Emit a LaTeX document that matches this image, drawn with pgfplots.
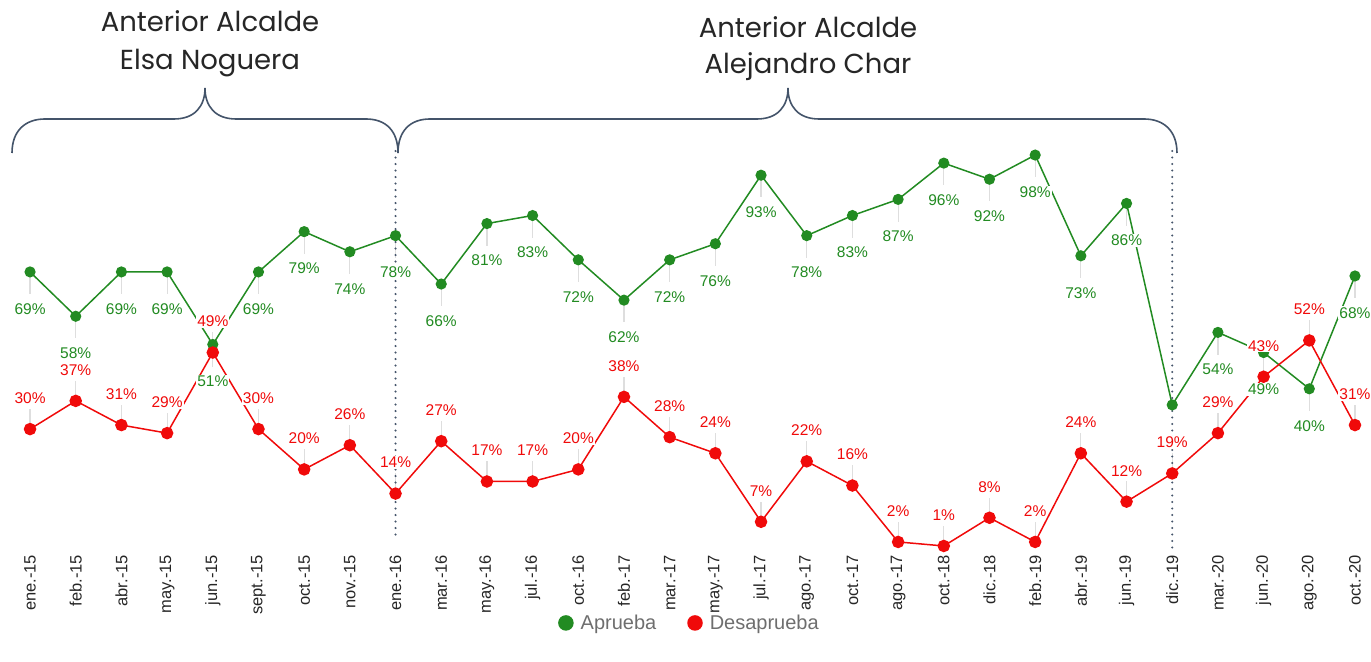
\documentclass[border=0pt]{standalone}
\usepackage{fontspec}
\setmainfont{Liberation Sans}
\newfontfamily\titlefont{Poppins}
\usepackage{pgfplots}
\usepackage{pgfplotstable}
\pgfplotsset{compat=1.18}
\definecolor{apr}{RGB}{34,139,34}
\definecolor{des}{RGB}{240,10,10}
\definecolor{slate}{RGB}{68,84,106}
\definecolor{lead}{RGB}{222,222,222}
\definecolor{legtext}{RGB}{110,110,110}

\pgfplotstableread{
x apr des
0 69 30
1 58 37
2 69 31
3 69 29
4 51 49
5 69 30
6 79 20
7 74 26
8 78 14
9 66 27
10 81 17
11 83 17
12 72 20
13 62 38
14 72 28
15 76 24
16 93 7
17 78 22
18 83 16
19 87 2
20 96 1
21 92 8
22 98 2
23 73 24
24 86 12
25 36 19
26 54 29
27 49 43
28 40 52
29 68 31
}\datatable

\begin{document}
\begin{tikzpicture}
\useasboundingbox (0,0) rectangle (1371bp,662bp);
\begin{axis}[
  at={(7.2bp,112bp)}, anchor=south west,
  scale only axis, width=1361.5bp, height=403bp,
  xmin=-0.5, xmax=29.3, ymin=0, ymax=100,
  clip=false,
  /pgf/number format/assume math mode=true,
  axis y line=none,
  axis x line*=bottom,
  x axis line style={draw=none},
  xtick={0,...,29},
  xticklabels={ene.-15,feb.-15,abr.-15,may.-15,jun.-15,sept.-15,oct.-15,nov.-15,ene.-16,mar.-16,may.-16,jul.-16,oct.-16,feb.-17,mar.-17,may.-17,jul.-17,ago.-17,oct.-17,ago.-17,oct.-18,dic.-18,feb.-19,abr.-19,jun.-19,dic.-19,mar.-20,jun.-20,ago.-20,oct.-20},
  major tick length=0pt,
  xtick style={draw=none},
  xticklabel style={rotate=90, anchor=east, inner sep=0pt, outer sep=5bp,
    font=\fontsize{16.5bp}{18bp}\selectfont, text=black!85},
  legend style={at={(0.5011,-0.181)}, anchor=center, draw=none, fill=none,
    legend columns=2, font=\fontsize{20bp}{22bp}\selectfont, text=legtext,
    /tikz/every even column/.append style={column sep=29bp}},
  legend image code/.code={\fill[#1] (0bp,0bp) circle (7bp); \path (12bp,0bp);},
]
% leader lines
\addplot[forget plot, draw=none, skip coords between index={25}{26},
  error bars/.cd, y dir=minus, y fixed=5.5, error mark=none,
  error bar style={lead, line width=1.2bp}] table[x=x,y=apr]\datatable;
\addplot[forget plot, draw=none,
  error bars/.cd, y dir=plus, y fixed=5, error mark=none,
  error bar style={lead, line width=1.2bp}] table[x=x,y=des]\datatable;
% series
\addplot[apr, line width=1.5bp, mark=*, mark size=4.8bp, mark options={solid, fill=apr, draw=apr}] table[x=x,y=apr]\datatable;
\addplot[des, line width=1.5bp, mark=*, mark size=5.5bp, mark options={solid, fill=des, draw=des}] table[x=x,y=des]\datatable;
% labels
\addplot[forget plot, draw=none, skip coords between index={25}{26},
  point meta=y, nodes near coords={\pgfmathprintnumber[assume math mode=true]{\pgfplotspointmeta}\%},
  every node near coord/.append style={text=apr, fill=white, inner sep=1bp, anchor=center, yshift=-37bp,
    font=\fontsize{15.5bp}{17bp}\selectfont}] table[x=x,y=apr]\datatable;
\addplot[forget plot, draw=none,
  point meta=y, nodes near coords={\pgfmathprintnumber[assume math mode=true]{\pgfplotspointmeta}\%},
  every node near coord/.append style={text=des, fill=white, inner sep=1bp, anchor=center, yshift=31bp,
    font=\fontsize{15.5bp}{17bp}\selectfont}] table[x=x,y=des]\datatable;
% dotted separators
\draw[slate, line width=2.4bp, dash pattern=on 0bp off 6.5bp, line cap=round] (axis cs:8,99) -- (axis cs:8,2.5);
\draw[slate, line width=2.4bp, dash pattern=on 0bp off 6.5bp, line cap=round] (axis cs:25,99) -- (axis cs:25,0.5);
\legend{Aprueba, Desaprueba}
\end{axis}
\begin{scope}[shift={(0bp,662bp)}, x=1bp, y=-1bp]
  \draw[slate, line width=1.6bp]
    (12,153) .. controls (12,131) and (25,119) .. (45,119) -- (174,119)
    .. controls (195,119) and (205,106) .. (205,88)
    .. controls (205,106) and (215,119) .. (236,119) -- (366,119)
    .. controls (386,119) and (398,131) .. (398,153);
  \draw[slate, line width=1.6bp]
    (398,153) .. controls (398,131) and (410,119) .. (430,119) -- (757,119)
    .. controls (778,119) and (788,106) .. (788,88)
    .. controls (788,106) and (798,119) .. (819,119) -- (1144,119)
    .. controls (1164,119) and (1177,131) .. (1177,153);
  \node[align=center, text=black!85, font=\titlefont\fontsize{27.5bp}{38bp}\selectfont] at (210,44) {Anterior Alcalde\\Elsa Noguera};
  \node[align=center, text=black!85, font=\titlefont\fontsize{27.5bp}{36bp}\selectfont] at (808,49) {Anterior Alcalde\\Alejandro Char};
\end{scope}
\end{tikzpicture}
\end{document}
